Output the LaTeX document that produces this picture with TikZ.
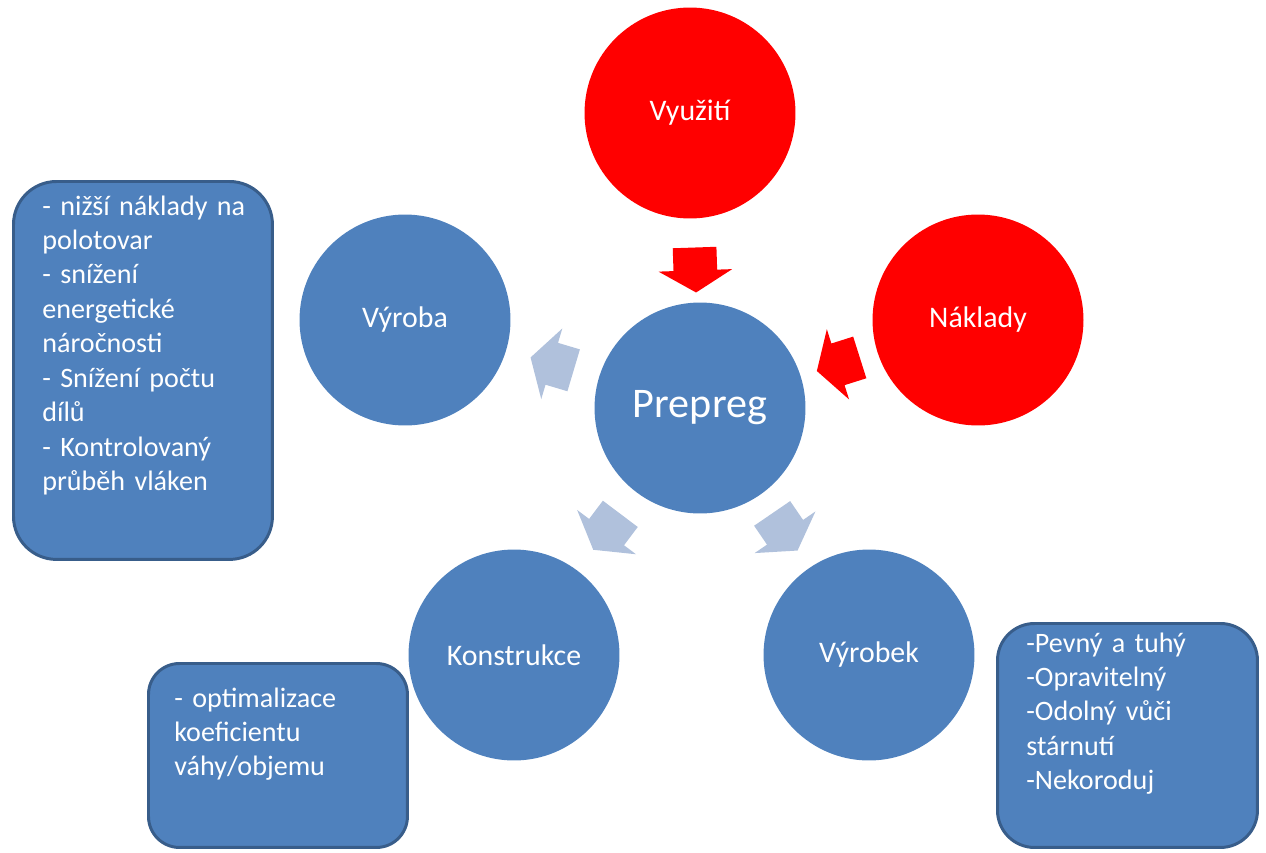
\documentclass[tikz,border=0pt]{standalone}
\usepackage{fontspec}
\setmainfont[WordSpace=0.85]{Carlito}
\usetikzlibrary{shapes.arrows,calc,positioning}
\definecolor{ringblue}{HTML}{4F81BD}
\definecolor{paleblue}{HTML}{B0C1DC}
\definecolor{edgeblue}{HTML}{385D8A}

% block arrow between two nodes: [pos]{style}{from}{to}
\newcommand{\blockarrow}[4][0.48]{%
  \path let \p1 = ($(#4)-(#3)$), \n1 = {atan2(\y1,\x1)} in
    node[#2, rotate=\n1] at ($(#3)!#1!(#4)$) {};}

\begin{document}
\begin{tikzpicture}[x=0.02cm, y=-0.02cm,
  ring/.style={circle, fill=ringblue, minimum size=4.22cm, inner sep=0pt, text=white, font=\fontsize{17}{20}\selectfont},
  hot/.style={ring, fill=red},
  note/.style={draw=edgeblue, line width=1.7pt, fill=ringblue, anchor=north west, inner sep=0pt},
  notetext/.style={anchor=base west, text=white, text width=5cm, align=left, inner sep=0pt, font=\fontsize{16}{19.6}\selectfont},
  arr/.style={single arrow, draw=none, inner xsep=0pt, inner ysep=0.43cm, minimum height=0.9cm, single arrow head extend=0.3cm, single arrow tip angle=118},
  inarr/.style={arr, fill=red},
  outarr/.style={arr, fill=paleblue}]

\useasboundingbox (0,0) rectangle (1266,852);

% notes
\node[note, minimum width=5.18cm, minimum height=7.56cm, rounded corners=0.86cm] at (12,180) (VyrobaBox) {};
\node[notetext] at ($(VyrobaBox.north west)+(30,35)$) (VyrobaText) {- nižší náklady na\\polotovar\\- snížení\\energetické\\náročnosti\\- Snížení počtu\\dílů\\- Kontrolovaný\\průběh vláken};

\node[note, minimum width=5.18cm, minimum height=3.68cm, rounded corners=0.62cm] at (147,662) (KonstrBox) {};
\node[notetext] at ($(KonstrBox.north west)+(27,45)$) (KonstrText) {- optimalizace\\koeficientu\\váhy/objemu};

\node[note, minimum width=5.2cm, minimum height=4.48cm, rounded corners=0.74cm] at (996,622) (VyrobekBox) {};
\node[notetext] at ($(VyrobekBox.north west)+(30,30)$) (VyrobekText) {-Pevný a tuhý\\-Opravitelný\\-Odolný vůči\\stárnutí\\-Nekoroduj};

% circles
\node[hot] at (690,113) (Vyuziti) {Využití};
\node[hot] at (978,320) (Naklady) {Náklady};
\node[ring, font=\fontsize{24}{28}\selectfont] at (700,408) (Prepreg) {Prepreg};
\node[ring] at (405,320) (Vyroba) {Výroba};
\node[ring] at (514,655) (Konstr) {Konstrukce};
\node[ring] at (869,655) (Vyrobek) {Výrobek};

% arrows
\blockarrow[0.51]{inarr}{Vyuziti}{Prepreg}
\blockarrow{inarr}{Naklady}{Prepreg}
\blockarrow{outarr}{Prepreg}{Vyroba}
\blockarrow{outarr}{Prepreg}{Konstr}
\blockarrow{outarr}{Prepreg}{Vyrobek}

\end{tikzpicture}
\end{document}
